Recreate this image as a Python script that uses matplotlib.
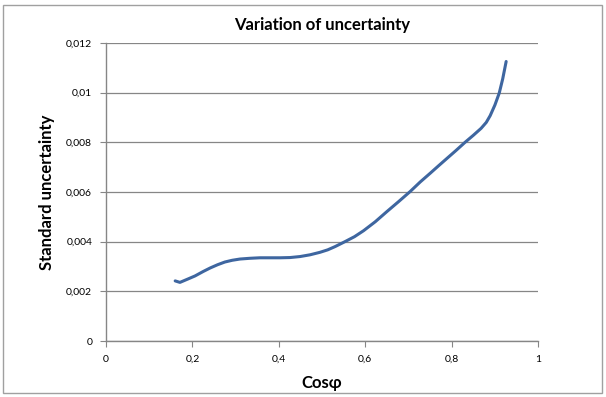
import matplotlib.pyplot as plt
import matplotlib.patches as patches
from matplotlib.ticker import FuncFormatter

# values
cos_phi = [0.160, 0.171, 0.190, 0.206, 0.225, 0.241, 0.258, 0.275, 0.292, 0.310,
           0.333, 0.356, 0.380, 0.403, 0.426, 0.449, 0.472, 0.495, 0.513, 0.530,
           0.553, 0.575, 0.596, 0.623, 0.650, 0.677, 0.704, 0.727, 0.750, 0.770,
           0.789, 0.810, 0.831, 0.850, 0.868, 0.880, 0.889, 0.900, 0.910, 0.918, 0.926]
uncertainty = [0.00242, 0.00236, 0.00250, 0.00262, 0.00280, 0.00294, 0.00307, 0.00318, 0.00325, 0.00330,
               0.00333, 0.00335, 0.00335, 0.00335, 0.00336, 0.00340, 0.00347, 0.00357, 0.00367, 0.00380,
               0.00400, 0.00420, 0.00444, 0.00480, 0.00521, 0.00561, 0.00602, 0.00640, 0.00675, 0.00706,
               0.00735, 0.00767, 0.00800, 0.00828, 0.00856, 0.00880, 0.00907, 0.00950, 0.00998, 0.01055, 0.01125]

x_ticks = [0, 0.2, 0.4, 0.6, 0.8, 1.0]
y_ticks = [0, 0.002, 0.004, 0.006, 0.008, 0.010, 0.012]

plt.rcParams['font.family'] = ['Lato', 'DejaVu Sans']

fig = plt.figure(figsize=(6.06, 3.97), dpi=100)
ax = fig.add_axes([0.175, 0.141, 0.713, 0.751])

# light outer chart frame
fig.patches.append(patches.Rectangle((0.005, 0.01), 0.988, 0.978, transform=fig.transFigure,
                                     fill=False, edgecolor='#a0a0a0', linewidth=1.0))

ax.plot(cos_phi, uncertainty, color='#3e66a0', linewidth=2.2, solid_capstyle='round')

ax.set_xlim(0, 1)
ax.set_ylim(0, 0.012)
ax.set_xticks(x_ticks)
ax.set_yticks(y_ticks)

fmt = FuncFormatter(lambda v, p: ('%g' % round(v, 4)).replace('.', ','))
ax.xaxis.set_major_formatter(fmt)
ax.yaxis.set_major_formatter(fmt)

ax.grid(axis='y', color='#868686', linewidth=0.9)
ax.set_axisbelow(True)
for side in ['top', 'right']:
    ax.spines[side].set_visible(False)
for side in ['left', 'bottom']:
    ax.spines[side].set_color('#868686')
    ax.spines[side].set_linewidth(1.0)
ax.tick_params(axis='both', labelsize=7.5, length=4, color='#868686', direction='out', pad=6)

ax.set_title('Variation of uncertainty', fontsize=12, fontweight='bold', pad=9)
ax.set_xlabel('Cosφ', fontsize=12, fontweight='bold', labelpad=8)
ax.set_ylabel('Standard uncertainty', fontsize=12, fontweight='bold', labelpad=8)

fig.savefig('out.png', dpi=100)
